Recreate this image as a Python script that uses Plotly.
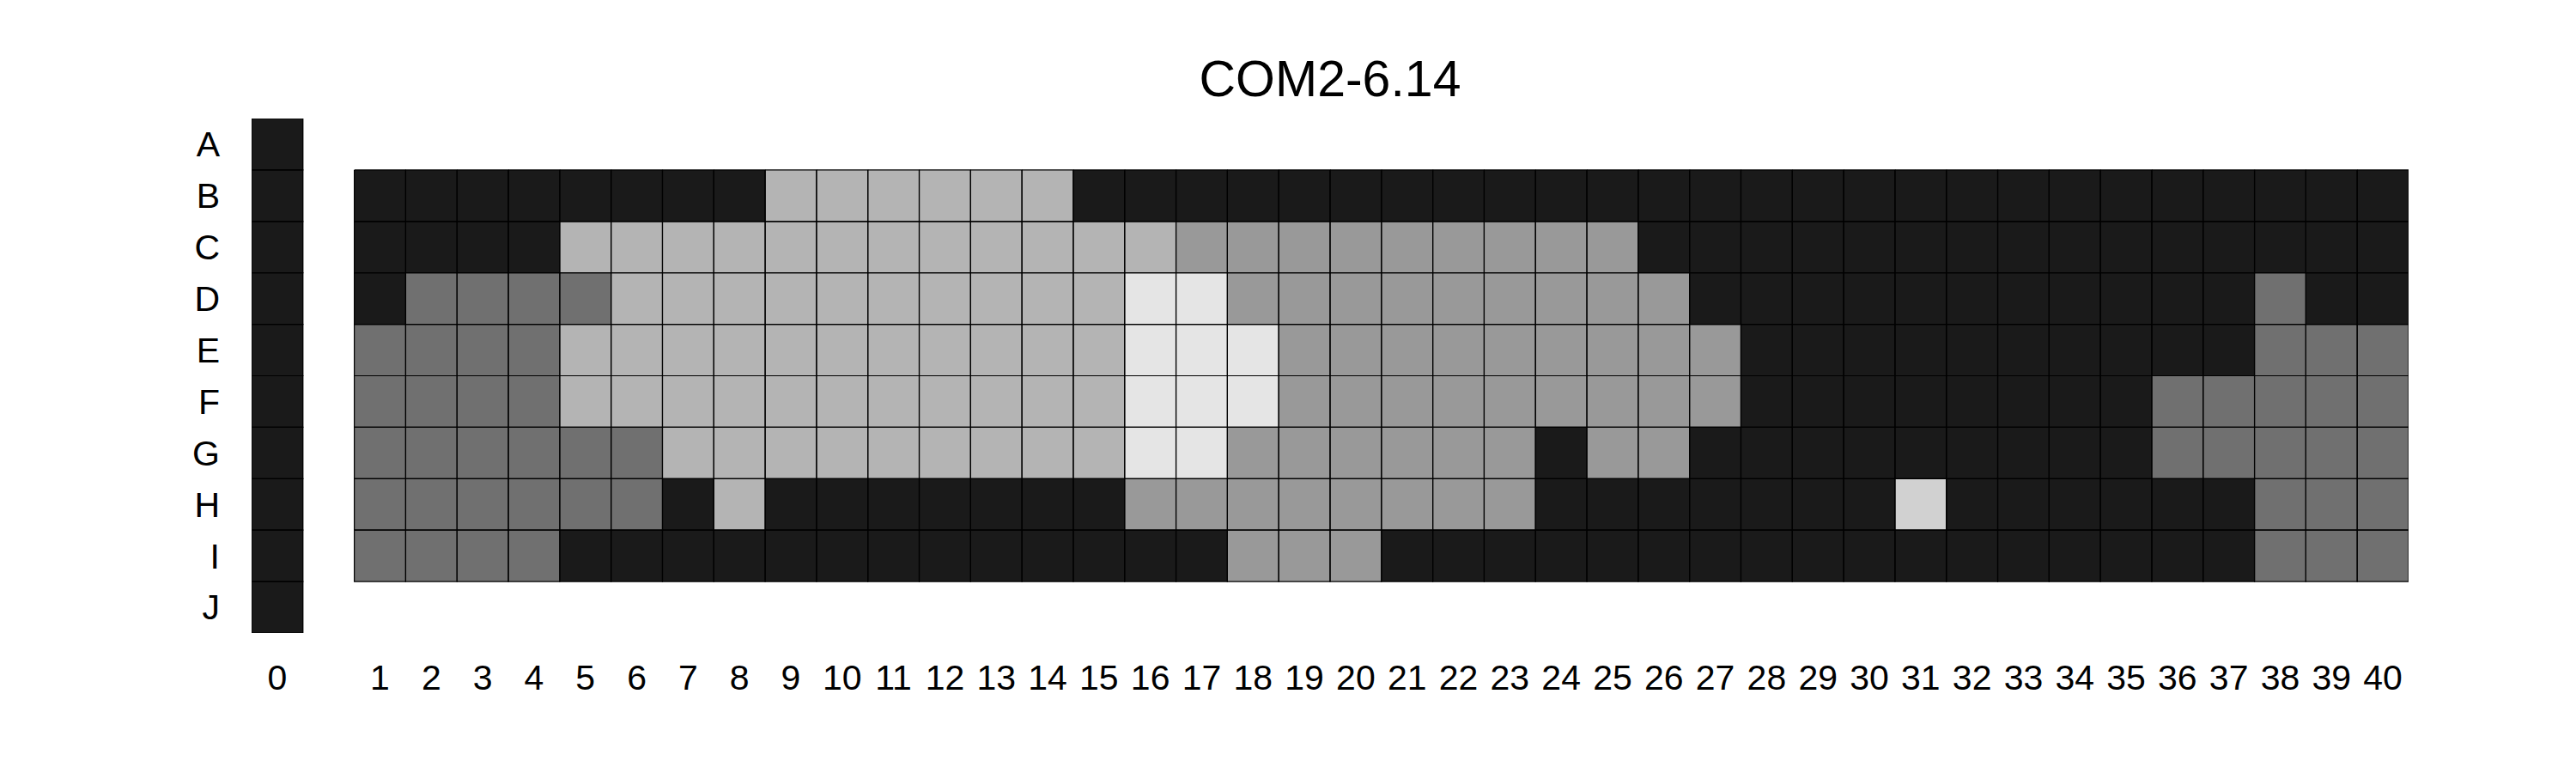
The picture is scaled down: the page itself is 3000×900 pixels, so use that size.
import numpy as np
import plotly.graph_objects as go

# ---- data ----
title_text = "COM2-6.14"
row_labels = ["A", "B", "C", "D", "E", "F", "G", "H", "I", "J"]
col_labels = ["0"] + [str(i) for i in range(1, 41)]
col_positions = [-1] + list(range(1, 41))   # column "0" sits one slot apart

# level codes per row for columns 1..40 (rows A and J are empty there)
row_B = [0,0,0,0,0,0,0,0,3,3,3,3,3,3,0,0,0,0,0,0,0,0,0,0,0,0,0,0,0,0,0,0,0,0,0,0,0,0,0,0]
row_C = [0,0,0,0,3,3,3,3,3,3,3,3,3,3,3,3,2,2,2,2,2,2,2,2,2,0,0,0,0,0,0,0,0,0,0,0,0,0,0,0]
row_D = [0,1,1,1,1,3,3,3,3,3,3,3,3,3,3,4,4,2,2,2,2,2,2,2,2,2,0,0,0,0,0,0,0,0,0,0,0,1,0,0]
row_E = [1,1,1,1,3,3,3,3,3,3,3,3,3,3,3,4,4,4,2,2,2,2,2,2,2,2,2,0,0,0,0,0,0,0,0,0,0,1,1,1]
row_F = [1,1,1,1,3,3,3,3,3,3,3,3,3,3,3,4,4,4,2,2,2,2,2,2,2,2,2,0,0,0,0,0,0,0,0,1,1,1,1,1]
row_G = [1,1,1,1,1,1,3,3,3,3,3,3,3,3,3,4,4,2,2,2,2,2,2,0,2,2,0,0,0,0,0,0,0,0,0,1,1,1,1,1]
row_H = [1,1,1,1,1,1,0,3,0,0,0,0,0,0,0,2,2,2,2,2,2,2,2,0,0,0,0,0,0,0,5,0,0,0,0,0,0,1,1,1]
row_I = [1,1,1,1,0,0,0,0,0,0,0,0,0,0,0,0,0,2,2,2,0,0,0,0,0,0,0,0,0,0,0,0,0,0,0,0,0,1,1,1]
col_0 = [0, 0, 0, 0, 0, 0, 0, 0, 0, 0]   # column "0", rows A..J

level_colors = ["#1a1a1a", "#707070", "#999999", "#b4b4b4", "#e5e5e5", "#d1d1d1"]

# ---- build grid (x slots -1..40, slot 0 left empty) ----
body = {"B": row_B, "C": row_C, "D": row_D, "E": row_E,
        "F": row_F, "G": row_G, "H": row_H, "I": row_I}
x_slots = list(range(-1, 41))
z = np.full((len(row_labels), len(x_slots)), np.nan)
for ri, r in enumerate(row_labels):
    z[ri, x_slots.index(-1)] = col_0[ri]
    if r in body:
        for ci, v in enumerate(body[r]):
            z[ri, x_slots.index(col_positions[ci + 1])] = v

n = len(level_colors)
colorscale = []
for i, c in enumerate(level_colors):
    colorscale.append([i / n, c])
    colorscale.append([(i + 1) / n, c])

fig = go.Figure()
fig.add_trace(go.Heatmap(
    z=z, x=x_slots, y=list(range(len(row_labels))),
    colorscale=colorscale, zmin=-0.5, zmax=n - 0.5,
    showscale=False, hoverinfo="skip",
))

# cell outlines derived from the same grid
lx, ly = [], []
for ri in range(z.shape[0]):
    for ci, xs in enumerate(x_slots):
        if not np.isnan(z[ri, ci]):
            x0, x1 = xs - 0.5, xs + 0.5
            y0, y1 = ri - 0.5, ri + 0.5
            lx += [x0, x1, x1, x0, x0, None]
            ly += [y0, y0, y1, y1, y0, None]
fig.add_trace(go.Scatter(x=lx, y=ly, mode="lines",
                         line=dict(color="black", width=1.2),
                         hoverinfo="skip", showlegend=False))

fig.update_layout(
    width=3000, height=900,
    paper_bgcolor="white", plot_bgcolor="white",
    margin=dict(l=285, r=203, t=130, b=171),
    font=dict(family="Liberation Sans, Arial, sans-serif", color="black"),
    title=dict(text=title_text, x=0.5, xref="paper", xanchor="center",
               y=1 - 83 / 900, yref="container", yanchor="middle",
               font=dict(size=59, color="black")),
    showlegend=False,
)
fig.update_xaxes(range=[-1.5, 40.5], tickvals=col_positions, ticktext=col_labels,
                 showgrid=False, zeroline=False, showline=False, ticks="",
                 tickfont=dict(size=41), ticklabelstandoff=24)
fig.update_yaxes(range=[len(row_labels) - 0.5, -0.5],
                 tickvals=list(range(len(row_labels))), ticktext=row_labels,
                 showgrid=False, zeroline=False, showline=False, ticks="",
                 tickfont=dict(size=41), ticklabelstandoff=36)

fig.write_html("out.html")
